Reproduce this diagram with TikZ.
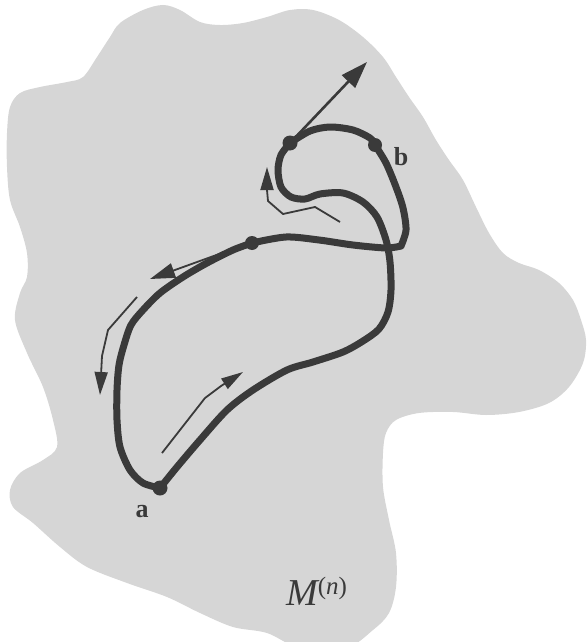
\documentclass[tikz,border=0pt]{standalone}
\usepackage{fontspec}
\setmainfont{Liberation Serif}
\usetikzlibrary{arrows.meta}
\definecolor{blobgray}{HTML}{D6D6D6}
\definecolor{ink}{HTML}{3A3A3A}
\begin{document}
\begin{tikzpicture}[x=1pt,y=-1pt,
  curve/.style={ink, line width=7pt, line cap=round, line join=round},
  thinarrow/.style={ink, line width=1.8pt, line join=round, -{Triangle[length=23pt,width=13pt]}},
  dotc/.style={circle, fill=ink, inner sep=0pt, minimum size=15pt},
  lbl/.style={font=\fontsize{26}{28}\selectfont\bfseries, text=ink, anchor=base, inner sep=0pt}]
\useasboundingbox (0,0) rectangle (586,642);
\clip (0,0) rectangle (586,642);
% manifold
\fill[blobgray] plot[smooth cycle, tension=0.55] coordinates {
 (120,23) (143,10) (163,5) (180,10) (200,22) (220,25) (243,23) (267,17) (290,10)
 (313,10) (339,20) (363,37) (383,57) (396,77) (409,97) (423,117) (436,140) (449,160)
 (463,180) (476,207) (489,233) (503,253) (519,263) (539,270) (559,283) (573,300)
 (581,320) (586,340) (583,363) (569,387) (549,403) (519,412) (486,415) (453,412)
 (419,413) (396,420) (386,433) (383,453) (383,487) (389,520) (396,553) (396,587)
 (389,613) (373,630) (346,648) (300,648) (267,633) (233,627) (200,613) (167,597)
 (127,583) (87,567) (60,547) (33,523) (13,507) (10,490) (20,473) (43,460) (57,447)
 (53,420) (43,387) (27,353) (15,320) (20,293) (27,277) (27,253) (20,227) (10,200)
 (7,167) (7,133) (10,107) (20,93) (40,87) (67,82) (83,77) (97,57) (110,37)};
% named points
\coordinate (pa) at (160,488);
\coordinate (pb) at (375,145);
\coordinate (pp) at (290,143);
\coordinate (pq) at (252,243);
\coordinate (pc) at (401,246);
% curve: a -> right branch -> inner S -> P
\draw[curve] plot[smooth] coordinates {
 (160,488) (177,467) (200,440) (227,410) (253,390) (287,370) (313,362) (343,352)
 (363,341) (379,329) (388,312) (391,290) (390,262) (386,240) (377,217) (363,202)
 (343,193) (320,194) (305,199) (291,197) (281,187) (278,170) (281,155) (290,143)};
% P -> b
\draw[curve] plot[smooth] coordinates {(290,143) (310,131) (330,127) (353,130) (370,138) (375,145)};
% b -> corner
\draw[curve] plot[smooth] coordinates {(375,145) (386,163) (396,187) (403,208) (406,230) (401,246)};
% corner -> Q
\draw[curve] plot[smooth] coordinates {(401,246) (386,248) (353,245) (319,240) (286,237) (252,243)};
% Q -> left branch -> a
\draw[curve] plot[smooth] coordinates {
 (252,243) (233,250) (207,263) (183,277) (160,293) (143,310) (131,325) (124,345)
 (119,365) (117,390) (117,420) (120,447) (130,470) (143,483) (160,488)};
% tangent vector at P
\coordinate (tv) at (367,62);
\draw[ink, line width=2.6pt, -{Triangle[length=27pt,width=18pt]}] (pp) -- (tv);
% direction arrows
\coordinate (t1s) at (222,253);
\coordinate (t1e) at (150,279);
\draw[thinarrow, -{Triangle[length=25pt,width=15pt]}] (t1s) -- (t1e);
\coordinate (t2s) at (137,297);
\coordinate (t2e) at (100,395);
\draw[thinarrow] (t2s) -- (108,330) -- (102,356) -- (t2e);
\coordinate (t3s) at (162,453);
\coordinate (t3e) at (243,372);
\draw[thinarrow, -{Triangle[length=22pt,width=12pt]}] (t3s) -- (205,398) -- (221,386) -- (t3e);
\coordinate (t4s) at (340,222);
\coordinate (t4e) at (267,167);
\draw[thinarrow] (t4s) -- (315,207) -- (283,214) -- (268,201) -- (267,190) -- (t4e);
% dots
\node[dotc] (a) at (pa) {};
\node[dotc, minimum size=14pt] (b) at (pb) {};
\node[dotc] (p) at (pp) {};
\node[dotc, minimum size=14pt] (q) at (pq) {};
% labels
\node[lbl] (la) at (142,517) {a};
\node[lbl] (lb) at (401,165) {b};
\node[anchor=base west, inner sep=0pt, text=ink] (lm) at (286,605)
  {{\fontsize{38}{40}\selectfont\itshape M}\raisebox{11pt}{\fontsize{25}{26}\selectfont(\textit{n})}};
\end{tikzpicture}
\end{document}
